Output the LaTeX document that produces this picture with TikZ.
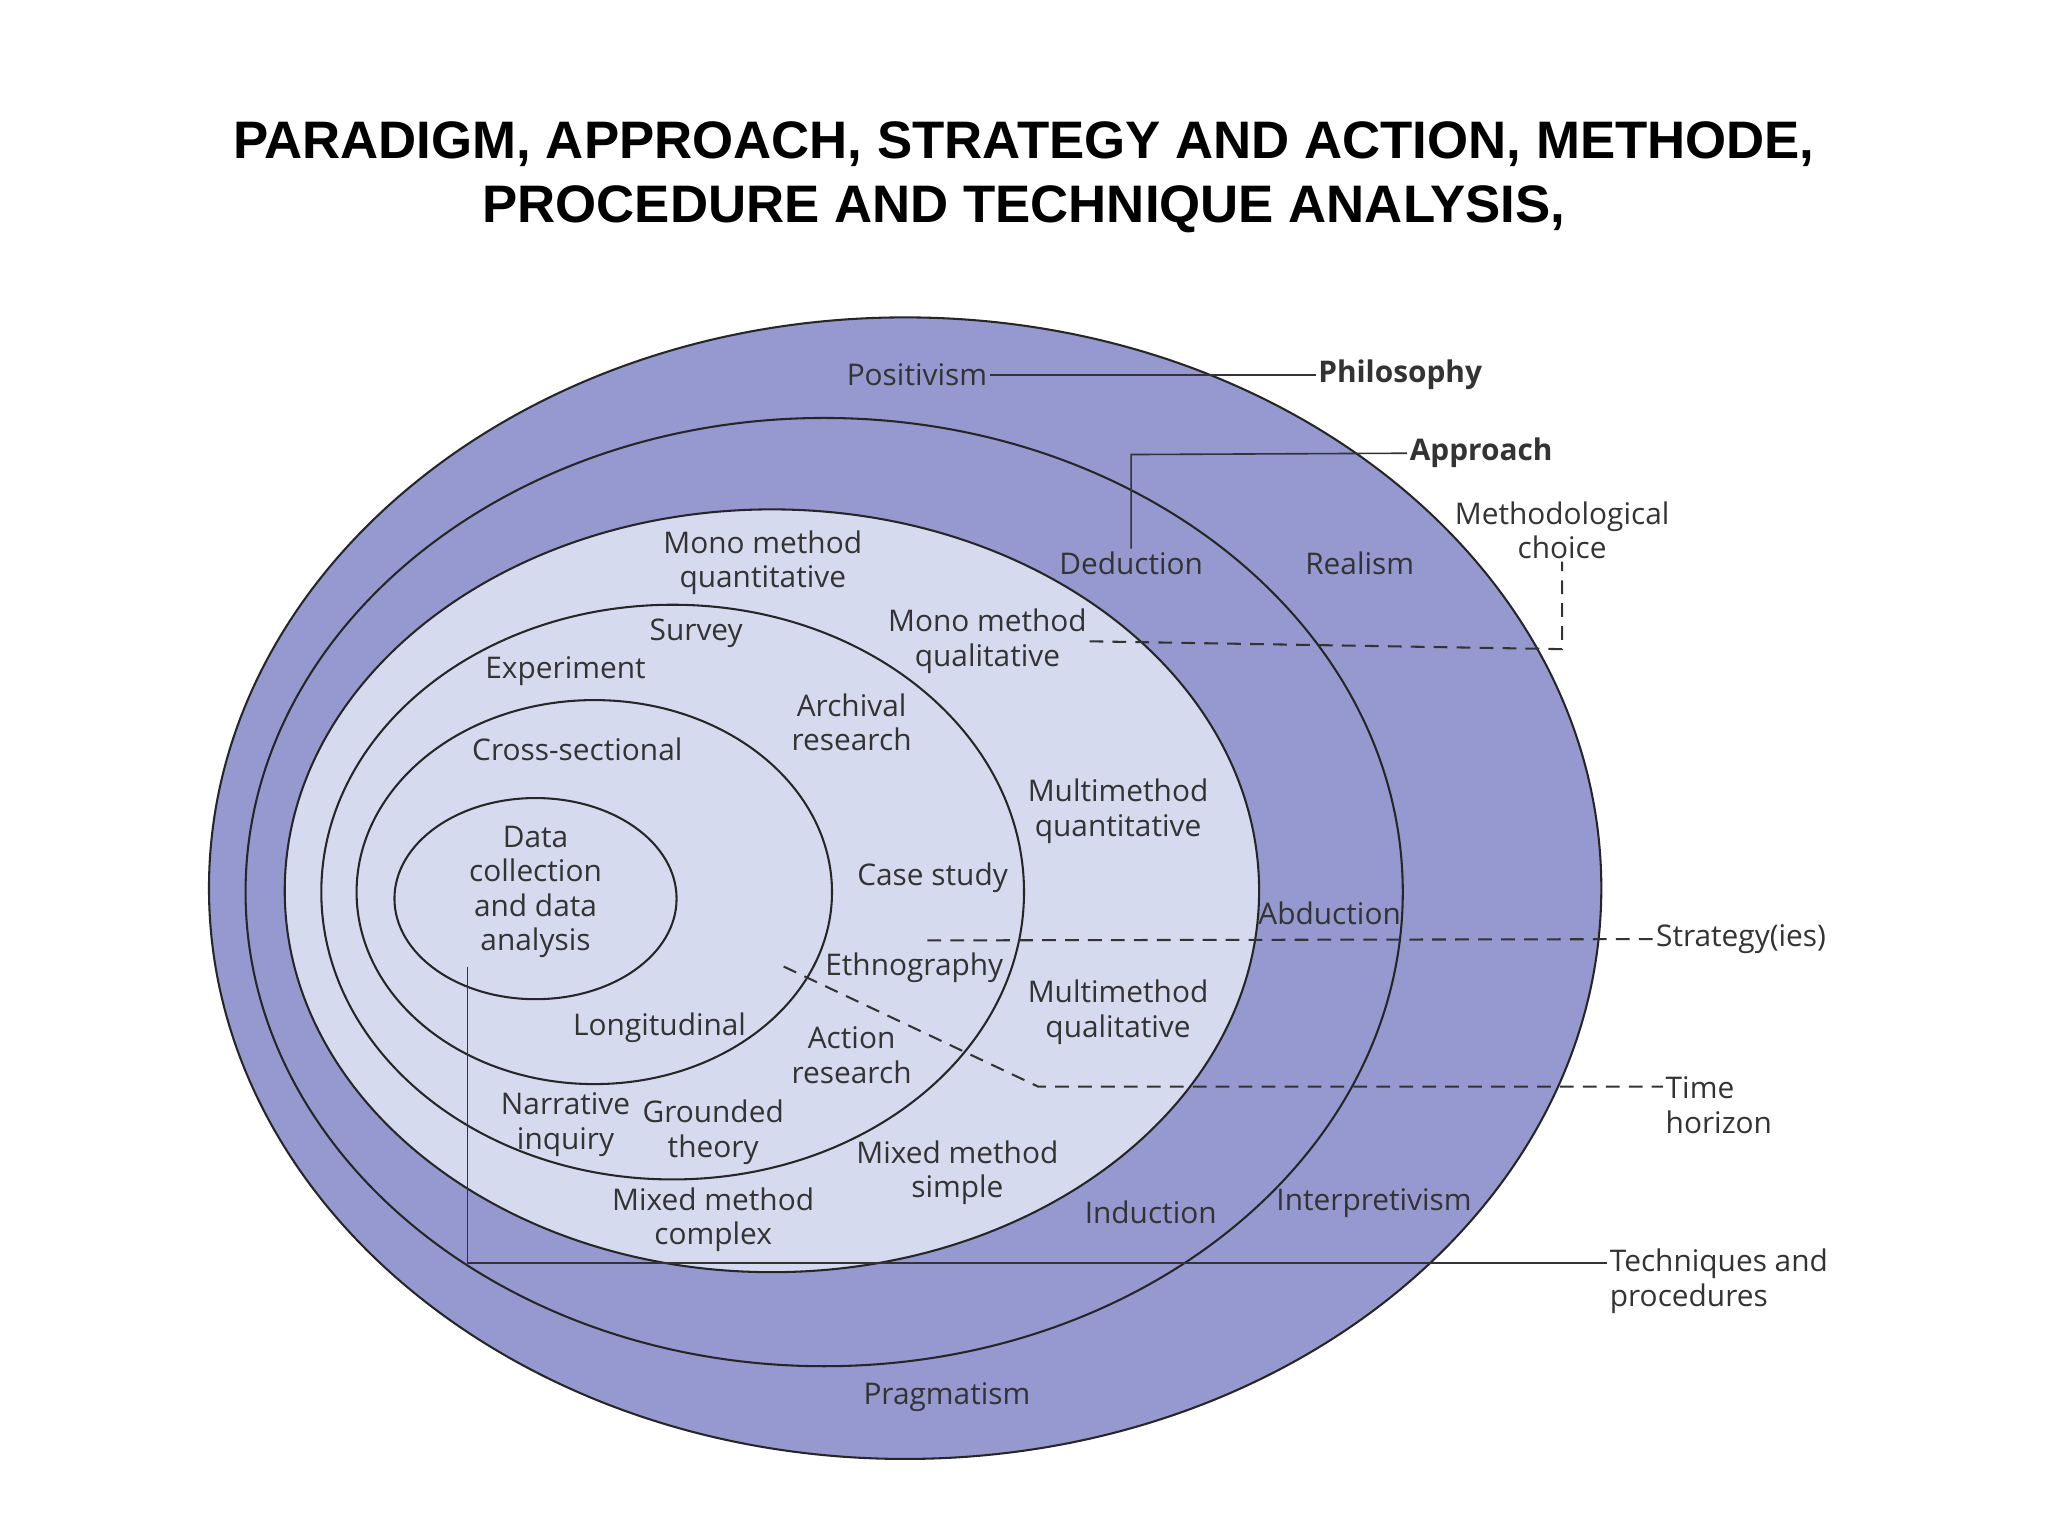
\documentclass[tikz,border=0pt]{standalone}
\usepackage{fontspec}
\setmainfont{Open Sans}
\newfontfamily\titlefont{Liberation Sans}
\begin{document}
\begin{tikzpicture}[x=0.02cm,y=-0.02cm,
  lbl/.style={font=\fontsize{13}{15}\selectfont, text=black!80, align=center, inner sep=1pt},
  ring/.style={draw=black!85, line width=0.9pt},
  lead/.style={draw=black!80, line width=0.7pt},
  dlead/.style={draw=black!80, line width=0.9pt, dash pattern=on 6pt off 4pt}]
\definecolor{purp}{HTML}{9599CF}
\definecolor{pale}{HTML}{D5DAEF}
\useasboundingbox (0,0) rectangle (1568,1176);
\fill[white] (0,0) rectangle (1568,1176);
\node[font=\titlefont\bfseries\fontsize{23}{28}\selectfont, align=center] (title) at (784,136)
 {PARADIGM, APPROACH, STRATEGY AND ACTION, METHODE,\\PROCEDURE AND TECHNIQUE ANALYSIS,};
\path[ring, fill=purp] (693,680) ellipse [x radius=533, y radius=437];
\path[ring, fill=purp] (631,683) ellipse [x radius=443, y radius=363];
\path[ring, fill=pale] (591,682) ellipse [x radius=373, y radius=292];
\path[ring] (515,683) ellipse [x radius=269, y radius=220];
\path[ring] (455,683) ellipse [x radius=182, y radius=147];
\path[ring] (410,688) ellipse [x radius=108, y radius=77];
% labels
\node[lbl] (pos) at (702,287) {Positivism};
\node[lbl,font=\fontsize{13}{15}\selectfont\bfseries] (phil) at (1072,287) {Philosophy};
\node[lbl,font=\fontsize{13}{15}\selectfont\bfseries] (appr) at (1134,347) {Approach};
\node[lbl] (mc) at (1196,406) {Methodological\\choice};
\node[lbl] (ded) at (866,431) {Deduction};
\node[lbl] (real) at (1041,431) {Realism};
\node[lbl] (mmq) at (584,431) {Mono method\\quantitative};
\node[lbl] (mmql) at (756,491) {Mono method\\qualitative};
\node[lbl] (surv) at (533,485) {Survey};
\node[lbl] (exp) at (433,514) {Experiment};
\node[lbl] (arch) at (652,553) {Archival\\research};
\node[lbl] (cross) at (442,574) {Cross-sectional};
\node[lbl] (mq) at (856,621) {Multimethod\\quantitative};
\node[lbl] (data) at (410,683) {Data\\collection\\and data\\analysis};
\node[lbl] (case) at (714,672) {Case study};
\node[lbl] (abd) at (1018,699) {Abduction};
\node[lbl] (strat) at (1333,719) {Strategy(ies)};
\node[lbl] (eth) at (700,741) {Ethnography};
\node[lbl] (mql) at (856,775) {Multimethod\\qualitative};
\node[lbl] (long) at (505,787) {Longitudinal};
\node[lbl] (act) at (652,808) {Action\\research};
\node[lbl, align=left] (time) at (1316,846) {Time\\horizon};
\node[lbl] (narr) at (433,861) {Narrative\\inquiry};
\node[lbl] (gt) at (546,867) {Grounded\\theory};
\node[lbl] (mms) at (733,898) {Mixed method\\simple};
\node[lbl] (mmc) at (546,934) {Mixed method\\complex};
\node[lbl] (ind) at (881,928) {Induction};
\node[lbl] (interp) at (1052,921) {Interpretivism};
\node[lbl, align=left] (tech) at (1316,981) {Techniques and\\procedures};
\node[lbl] (prag) at (725,1070) {Pragmatism};
% leaders
\coordinate (a1) at (866,348);
\coordinate (m1) at (1196,497);
\coordinate (s0) at (710,720);
\coordinate (t0) at (600,740);
\coordinate (t1) at (795,832);
\coordinate (k0) at (358,740);
\coordinate (k1) at (358,967);
\draw[lead] (pos) -- (phil);
\draw[lead] (ded.north) -- (a1) -- (appr.west);
\draw[dlead] (mmql.east) -- (m1) -- (mc.south);
\draw[dlead] (s0) -- (strat.west);
\draw[dlead] (t0) -- (t1) -- (t1 -| time.west);
\draw[lead] (k0) -- (k1) -- (k1 -| tech.west);
\end{tikzpicture}
\end{document}
